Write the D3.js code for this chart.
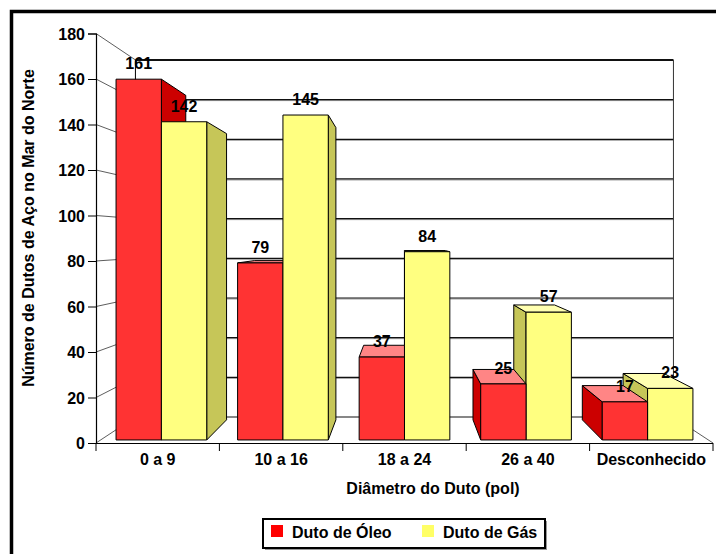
<!DOCTYPE html>
<html>
<head>
<meta charset="utf-8">
<script src="https://cdn.jsdelivr.net/npm/d3@7"></script>
<style>
  html, body { margin: 0; padding: 0; background: #fff; }
  svg text { font-family: "Liberation Sans", Arial, sans-serif; font-weight: bold; fill: #000; }
</style>
</head>
<body>
<svg id="chart" width="716" height="554"></svg>
<script>
// ---- data ----
const categories = ["0 a 9", "10 a 16", "18 a 24", "26 a 40", "Desconhecido"];
const oleo = [161, 79, 37, 25, 17];
const gas = [142, 145, 84, 57, 23];
const seriesNames = ["Duto de Óleo", "Duto de Gás"];
const yTicks = [0, 20, 40, 60, 80, 100, 120, 140, 160, 180];
const yTitle = "Número de Dutos de Aço no Mar do Norte";
const xTitle = "Diâmetro do Duto (pol)";

// ---- layout / style ----
const W = 716, H = 554;
const VPX = 404, VPY = 240;          // perspective vanishing point
const S_WALL = 0.872, S_FRONT = 0.985, S_BACK = 0.886;
const colors = [
  { front: "#FF3333", side: "#CC0000", top: "#FF8585", legend: "#FF0000" },
  { front: "#FFFF80", side: "#C6C658", top: "#FFFFB0", legend: "#FFFF66" }
];

const svg = d3.select("#chart");
svg.append("rect").attr("width", W).attr("height", H).attr("fill", "#fff");

const x = d3.scaleBand().domain(categories).range([96, 713]).paddingInner(0.254).paddingOuter(0.127);
const xSeries = d3.scaleBand().domain([0, 1]).range([0, x.bandwidth()]);
const y = d3.scaleLinear().domain([0, 180]).range([443, 33.5]);

const P = (xf, yf, s) => [VPX + (xf - VPX) * s, VPY + (yf - VPY) * s];
const line = d3.line();

// outer frame
svg.append("rect").attr("x", 11.5).attr("y", 11.5).attr("width", 900).attr("height", 900)
  .attr("fill", "none").attr("stroke", "#000").attr("stroke-width", 3.5);

const gWall = svg.append("g");
const x0 = x.range()[0], x1 = x.range()[1];

// back wall gridlines
yTicks.forEach(t => {
  const a = P(x0, y(t), S_WALL), b = P(x1, y(t), S_WALL);
  if (t !== 0 && t !== 180) {
    gWall.append("path").attr("d", line([[a[0], a[1] + 1], [b[0], b[1] + 1]]))
      .attr("stroke", "#9a9a9a").attr("stroke-width", 1).attr("fill", "none");
  }
  gWall.append("path").attr("d", line([a, b]))
    .attr("stroke", "#111").attr("stroke-width", t === 180 ? 2 : 1.2).attr("fill", "none");
  // left wall diagonals
  const f = P(x0, y(t), 1);
  gWall.append("path").attr("d", line([f, a]))
    .attr("stroke", "#333").attr("stroke-width", 0.8).attr("fill", "none");
});
// back wall verticals
gWall.append("path").attr("d", line([P(x0, y(180), S_WALL), P(x0, y(0), S_WALL)]))
  .attr("stroke", "#000").attr("stroke-width", 1).attr("fill", "none");
gWall.append("path").attr("d", line([P(x1, y(180), S_WALL), P(x1, y(0), S_WALL)]))
  .attr("stroke", "#333").attr("stroke-width", 1).attr("fill", "none");
// right floor diagonal
gWall.append("path").attr("d", line([P(x1, y(0), 1), P(x1, y(0), S_WALL)]))
  .attr("stroke", "#333").attr("stroke-width", 0.8).attr("fill", "none");

// ---- bars ----
const bars = [];
categories.forEach((c, i) => {
  [oleo[i], gas[i]].forEach((v, k) => {
    const xl = x(c) + xSeries(k), xr = xl + xSeries.bandwidth();
    bars.push({ c, k, v, xl, xr, cx: (xl + xr) / 2 });
  });
});
bars.sort((a, b) => Math.abs(b.cx - VPX) - Math.abs(a.cx - VPX));

const gBars = svg.append("g");
bars.forEach(b => {
  const yt = y(b.v), yb = y(0);
  const col = colors[b.k];
  const g = gBars.append("g").attr("stroke", "#000").attr("stroke-width", 1).attr("stroke-linejoin", "round");
  // side face toward vanishing point
  const sx = b.cx < VPX ? b.xr : b.xl;
  g.append("path").attr("fill", col.side)
    .attr("d", line([P(sx, yt, S_FRONT), P(sx, yt, S_BACK), P(sx, yb, S_BACK), P(sx, yb, S_FRONT)]) + "Z");
  // top face if visible
  if (yt > VPY) {
    g.append("path").attr("fill", col.top)
      .attr("d", line([P(b.xl, yt, S_FRONT), P(b.xr, yt, S_FRONT), P(b.xr, yt, S_BACK), P(b.xl, yt, S_BACK)]) + "Z");
  }
  // front face
  g.append("path").attr("fill", col.front)
    .attr("d", line([P(b.xl, yt, S_FRONT), P(b.xr, yt, S_FRONT), P(b.xr, yb, S_FRONT), P(b.xl, yb, S_FRONT)]) + "Z");
});

// value labels
bars.forEach(b => {
  const p = P(b.cx, y(b.v), S_FRONT);
  svg.append("text").attr("x", p[0]).attr("y", p[1] - 10)
    .attr("text-anchor", "middle").attr("font-size", 16).text(b.v);
});

// ---- axes ----
const yAxis = d3.axisLeft(y).tickValues(yTicks).tickSize(8).tickPadding(3);
const gy = svg.append("g").attr("transform", `translate(${x0},0)`).call(yAxis);
gy.select(".domain").attr("stroke", "#000").attr("stroke-width", 1.2);
gy.selectAll(".tick line").attr("stroke", "#000");
gy.selectAll(".tick text").attr("font-size", 16).attr("font-family", null).attr("dy", "0.35em");

const xAxis = d3.axisBottom(x).tickSize(0).tickPadding(0);
const gx = svg.append("g").attr("transform", `translate(0,${y(0)})`).call(xAxis);
gx.select(".domain").attr("d", `M${x0},0.5H${x1}`).attr("stroke", "#000").attr("stroke-width", 1.2);
gx.selectAll(".tick text").attr("font-size", 16).attr("font-family", null).attr("y", 22).attr("dy", 0);
// tick marks at band boundaries
const bounds = categories.map(c => x(c) - x.step() * x.paddingInner() / 2).concat([x1]);
gx.selectAll(".bound").data(bounds).join("line")
  .attr("x1", d => d).attr("x2", d => d).attr("y1", 0).attr("y2", 8).attr("stroke", "#000");

// titles
svg.append("text").attr("transform", "translate(34,228) rotate(-90)")
  .attr("text-anchor", "middle").attr("font-size", 16).text(yTitle);
svg.append("text").attr("x", 433).attr("y", 494)
  .attr("text-anchor", "middle").attr("font-size", 16).text(xTitle);

// ---- legend ----
const lg = svg.append("g");
lg.append("rect").attr("x", 265).attr("y", 521).attr("width", 282).attr("height", 29).attr("fill", "#999");
lg.append("rect").attr("x", 263).attr("y", 519).attr("width", 282).attr("height", 29)
  .attr("fill", "#fff").attr("stroke", "#000").attr("stroke-width", 2);
const legendX = [271, 422];
seriesNames.forEach((n, k) => {
  lg.append("rect").attr("x", legendX[k]).attr("y", 525).attr("width", 12).attr("height", 12)
    .attr("fill", colors[k].legend);
  lg.append("text").attr("x", legendX[k] + 21).attr("y", 538).attr("font-size", 16).text(n);
});
</script>
</body>
</html>
